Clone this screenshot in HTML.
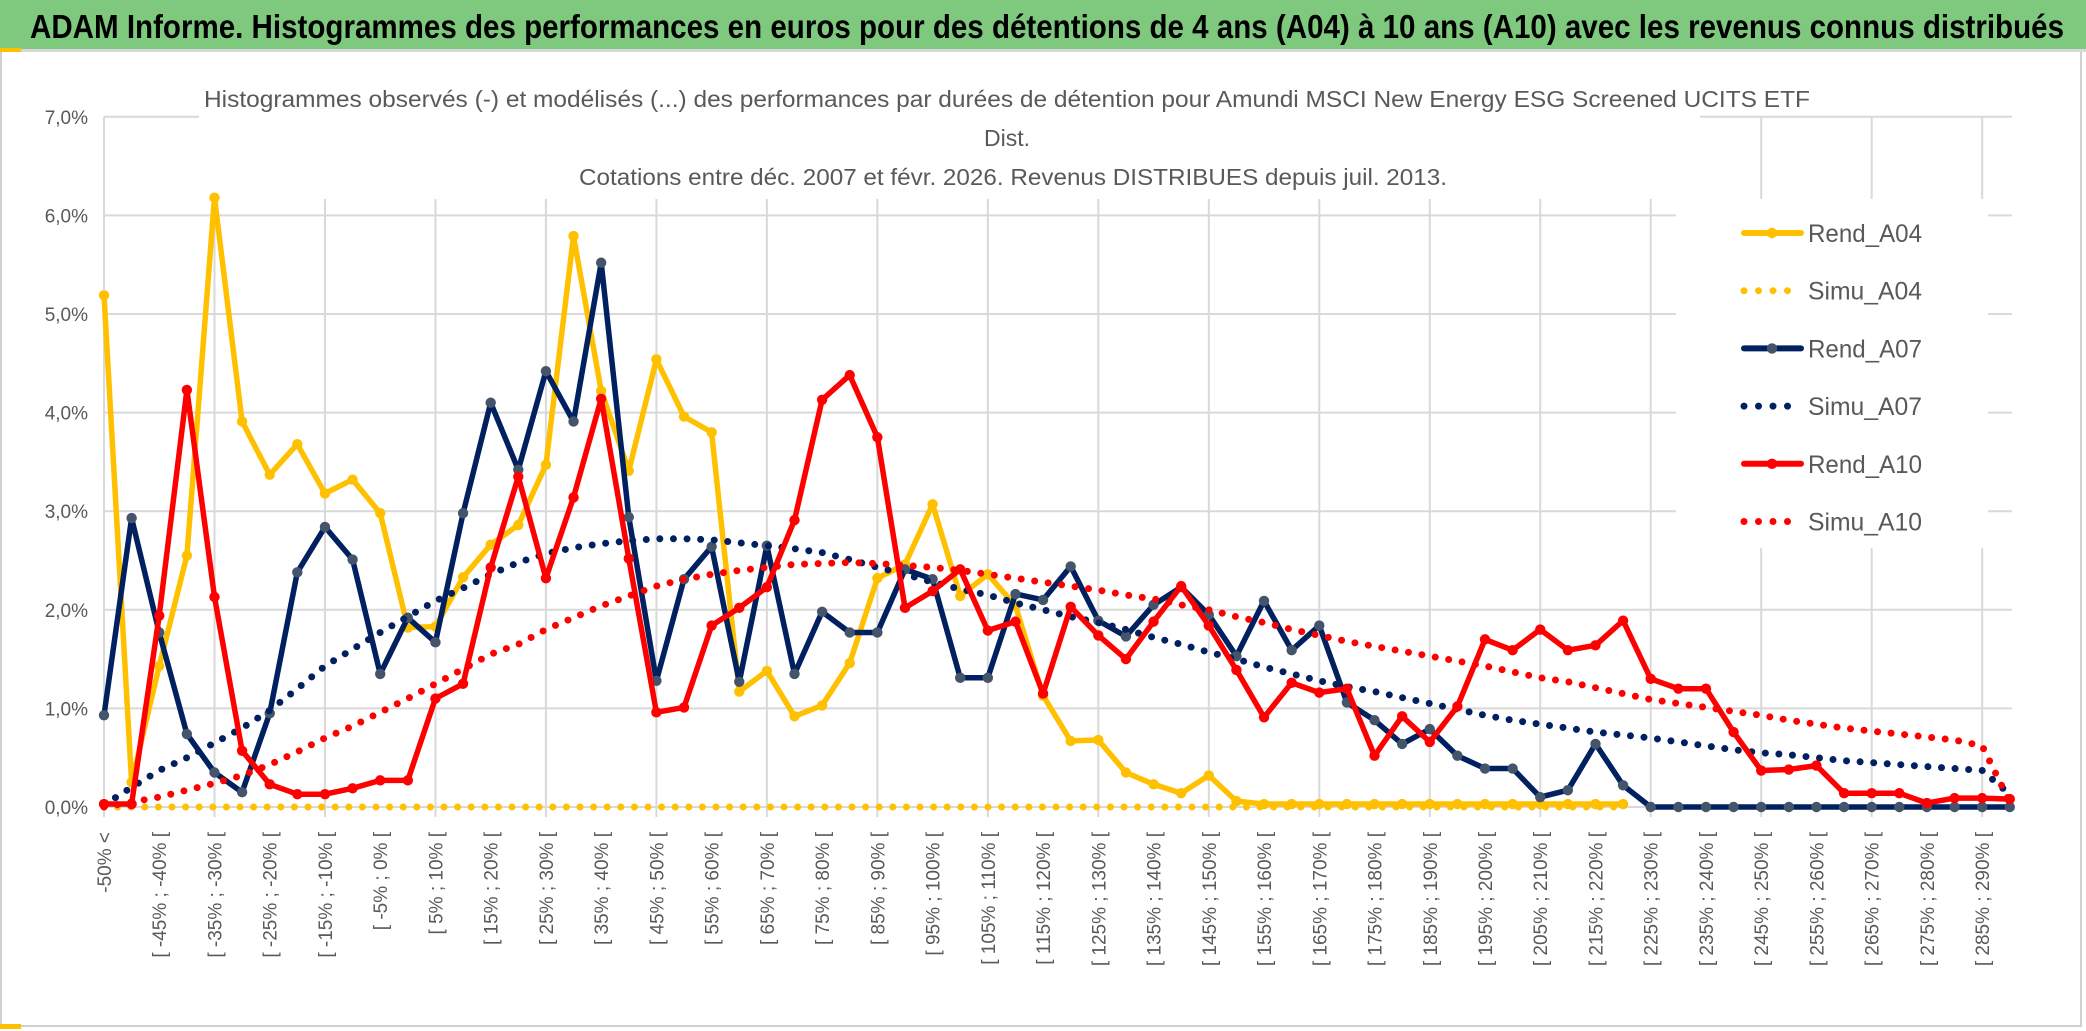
<!DOCTYPE html>
<html>
<head>
<meta charset="utf-8">
<style>
  html, body { margin:0; padding:0; background:#fff; }
  body { width:2086px; height:1031px; overflow:hidden; }
  svg { display:block; font-family:"Liberation Sans", sans-serif; }
</style>
</head>
<body>
<svg id="chart" width="2086" height="1031" viewBox="0 0 2086 1031" xmlns="http://www.w3.org/2000/svg">
  <rect x="0" y="0" width="2086" height="1031" fill="#ffffff"/>
  <rect x="1" y="50" width="2080" height="976" fill="none" stroke="#d0d0d0" stroke-width="2"/>
  <rect x="0" y="0" width="2086" height="50" fill="#7ec97d"/>
  <rect x="0" y="49" width="2086" height="3" fill="#d8d8d8"/>
  <rect x="0" y="48" width="21" height="4" fill="#ffc000"/>
  <rect x="0" y="1024" width="21" height="5" fill="#ffc000"/>
  <text x="30" y="38" font-size="33" font-weight="bold" fill="#000" textLength="2034" lengthAdjust="spacingAndGlyphs">ADAM Informe. Histogrammes des performances en euros pour des détentions de 4 ans (A04) à 10 ans (A10) avec les revenus connus distribués</text>
  <g id="grid"></g>
  <g id="yaxis"></g>
  <g id="xaxis"></g>
  <rect x="199" y="60" width="1501" height="139" fill="#fff"/>
  <g fill="#595959" font-size="23" text-anchor="middle">
    <text x="1007" y="107" textLength="1606" lengthAdjust="spacingAndGlyphs">Histogrammes observés (-) et modélisés (...) des performances par durées de détention pour Amundi MSCI New Energy ESG Screened UCITS ETF</text>
    <text x="1007" y="146">Dist.</text>
    <text x="1013" y="185" textLength="868" lengthAdjust="spacingAndGlyphs">Cotations entre déc. 2007 et févr. 2026. Revenus DISTRIBUES depuis juil. 2013.</text>
  </g>
  <g id="series"></g>
  <rect x="1676" y="199" width="312" height="349" fill="#fff"/>
  <g id="legend"></g>
</svg>
<script>
const categoryLowerBounds = [-50,-45,-40,-35,-30,-25,-20,-15,-10,-5,0,5,10,15,20,25,30,35,40,45,50,55,60,65,70,75,80,85,90,95,100,105,110,115,120,125,130,135,140,145,150,155,160,165,170,175,180,185,190,195,200,205,210,215,220,225,230,235,240,245,250,255,260,265,270,275,280,285,290];
const yTicks = [0,1,2,3,4,5,6,7];
const yTickLabels = ["0,0%","1,0%","2,0%","3,0%","4,0%","5,0%","6,0%","7,0%"];
const rendA04 = [5.19,0.25,1.43,2.55,6.18,3.91,3.37,3.68,3.18,3.32,2.98,1.82,1.83,2.33,2.66,2.86,3.47,5.79,4.22,3.41,4.54,3.96,3.80,1.17,1.38,0.92,1.03,1.46,2.32,2.46,3.07,2.14,2.36,2.04,1.13,0.67,0.68,0.35,0.23,0.14,0.32,0.06,0.03,0.03,0.03,0.03,0.03,0.03,0.03,0.03,0.03,0.03,0.03,0.03,0.03,0.03,null,null,null,null,null,null,null,null,null,null,null,null,null,null];
const simuA04 = [0,0,0,0,0,0,0,0,0,0,0,0,0,0,0,0,0,0,0,0,0,0,0,0,0,0,0,0,0,0,0,0,0,0,0,0,0,0,0,0,0,0,0,0,0,0,0,0,0,0,0,0,0,0,0,0,null,null,null,null,null,null,null,null,null,null,null,null,null,null];
const rendA07 = [0.93,2.93,1.77,0.74,0.35,0.15,0.95,2.38,2.84,2.51,1.35,1.92,1.67,2.98,4.10,3.42,4.42,3.91,5.52,2.94,1.28,2.31,2.64,1.27,2.65,1.35,1.98,1.77,1.77,2.41,2.31,1.31,1.31,2.16,2.10,2.44,1.89,1.73,2.05,2.23,1.95,1.53,2.09,1.59,1.84,1.06,0.88,0.64,0.79,0.52,0.39,0.39,0.10,0.17,0.64,0.22,0,0,0,0,0,0,0,0,0,0,0,0,0,0];
const simuA07 = [0.02,0.2,0.37,0.5,0.65,0.8,0.98,1.2,1.43,1.6,1.77,1.93,2.09,2.22,2.36,2.48,2.57,2.63,2.67,2.70,2.72,2.72,2.71,2.68,2.65,2.62,2.58,2.51,2.43,2.36,2.28,2.21,2.15,2.07,2.0,1.93,1.87,1.80,1.72,1.65,1.57,1.50,1.42,1.35,1.28,1.22,1.17,1.11,1.05,0.99,0.93,0.88,0.84,0.80,0.76,0.73,0.70,0.66,0.62,0.58,0.55,0.53,0.50,0.47,0.45,0.43,0.41,0.39,0.37,0.13];
const rendA10 = [0.03,0.03,1.94,4.23,2.13,0.57,0.23,0.13,0.13,0.19,0.27,0.27,1.10,1.25,2.43,3.35,2.32,3.14,4.14,2.52,0.96,1.01,1.84,2.02,2.23,2.91,4.13,4.38,3.75,2.02,2.19,2.41,1.79,1.88,1.15,2.03,1.74,1.50,1.88,2.24,1.84,1.39,0.91,1.26,1.16,1.20,0.52,0.92,0.66,1.02,1.70,1.59,1.80,1.59,1.64,1.89,1.30,1.20,1.20,0.76,0.37,0.38,0.42,0.14,0.14,0.14,0.04,0.09,0.09,0.08];
const simuA10 = [0.0,0.05,0.1,0.17,0.24,0.32,0.43,0.56,0.7,0.82,0.96,1.1,1.25,1.40,1.55,1.65,1.80,1.92,2.04,2.14,2.24,2.31,2.36,2.40,2.43,2.46,2.47,2.48,2.47,2.45,2.43,2.40,2.36,2.32,2.28,2.24,2.20,2.15,2.11,2.05,2.0,1.93,1.87,1.80,1.74,1.68,1.63,1.58,1.53,1.48,1.43,1.37,1.31,1.27,1.21,1.15,1.09,1.05,1.01,0.97,0.93,0.88,0.84,0.80,0.77,0.74,0.71,0.68,0.62,0.05];
const seriesNames = ["Rend_A04","Simu_A04","Rend_A07","Simu_A07","Rend_A10","Simu_A10"];

const NS = "http://www.w3.org/2000/svg";
const X0 = 104, DX = 27.62, Y0 = 807, PER = 98.6, XEND = 2012;
const nCat = categoryLowerBounds.length + 1;
function xPos(i){ return X0 + i * DX; }
function yPos(v){ return Y0 - v * PER; }
function mk(tag, attrs, parent){
  const e = document.createElementNS(NS, tag);
  for (const k in attrs) e.setAttribute(k, attrs[k]);
  parent.appendChild(e);
  return e;
}
function catLabel(i){
  if (i === 0) return "-50% <";
  const lo = categoryLowerBounds[i-1];
  return "[ " + lo + "% ; " + (lo+5) + "% [";
}

const grid = document.getElementById('grid');
yTicks.forEach(function(t){
  const ln = mk('line', {x1:X0, x2:XEND, y1:yPos(t), y2:yPos(t), stroke:'#d9d9d9', 'stroke-width':2}, grid);
  
  
});
for (let i = 0; i < nCat; i += 4){
  const ln = mk('line', {x1:xPos(i), x2:xPos(i), y1:yPos(7), y2:Y0+10, stroke:'#d9d9d9', 'stroke-width':2}, grid);
  
  
}

const yaxis = document.getElementById('yaxis');
yTicks.forEach(function(t, k){
  const tx = mk('text', {x:88, y:yPos(t)+7, 'text-anchor':'end', 'font-size':19, fill:'#595959'}, yaxis);
  tx.textContent = yTickLabels[k];
  
  
});

const xaxis = document.getElementById('xaxis');
for (let i = 0; i < nCat; i += 2){
  const x = xPos(i) + 7, y = 832;
  const tx = mk('text', {x:x, y:y, 'text-anchor':'end', 'font-size':19, fill:'#595959', transform:'rotate(-90 '+x+' '+y+')'}, xaxis);
  tx.textContent = catLabel(i);
  
  
}

const seriesG = document.getElementById('series');
function pathFor(vals){
  let d = "", pen = false;
  vals.forEach(function(v, i){
    if (v === null) { pen = false; return; }
    d += (pen ? " L" : " M") + xPos(i).toFixed(1) + " " + yPos(v).toFixed(1);
    pen = true;
  });
  return d;
}
function solid(vals, color, markerColor, name){
  const g = mk('g', {}, seriesG);
  
  
  const p = mk('path', {d:pathFor(vals), fill:'none', stroke:color, 'stroke-width':5.5, 'stroke-linejoin':'round', 'stroke-linecap':'round'}, g);
  
  
  vals.forEach(function(v, i){
    if (v === null) return;
    const c = mk('circle', {cx:xPos(i), cy:yPos(v), r:5.2, fill:markerColor}, g);
    
    
  });
}
function dotted(vals, color, name){
  const p = mk('path', {d:pathFor(vals), fill:'none', stroke:color, 'stroke-width':7, 'stroke-linecap':'round', 'stroke-dasharray':'0 13.6'}, seriesG);
  
  
}
solid(rendA04, '#ffc000', '#ffc000', 'rend-a04');
dotted(simuA04, '#ffc000', 'simu-a04');
solid(rendA07, '#002060', '#44546a', 'rend-a07');
dotted(simuA07, '#002060', 'simu-a07');
solid(rendA10, '#ff0000', '#ff0000', 'rend-a10');
dotted(simuA10, '#ff0000', 'simu-a10');

const legend = document.getElementById('legend');
const legendColors = ['#ffc000','#ffc000','#002060','#002060','#ff0000','#ff0000'];
const legendMarkers = ['#ffc000',null,'#44546a',null,'#ff0000',null];
seriesNames.forEach(function(nm, k){
  const y = 233 + k * 57.7;
  const g = mk('g', {}, legend);
  
  
  if (legendMarkers[k]) {
    const l = mk('line', {x1:1744, x2:1801, y1:y, y2:y, stroke:legendColors[k], 'stroke-width':6, 'stroke-linecap':'round'}, g);
    
    
    const c = mk('circle', {cx:1772, cy:y, r:5.2, fill:legendMarkers[k]}, g);
    
    
  } else {
    const l = mk('line', {x1:1744, x2:1801, y1:y, y2:y, stroke:legendColors[k], 'stroke-width':7, 'stroke-linecap':'round', 'stroke-dasharray':'0 14.5'}, g);
    
    
  }
  const t = mk('text', {x:1808, y:y+9, 'font-size':25, fill:'#595959', textLength:114, lengthAdjust:'spacingAndGlyphs'}, g);
  t.textContent = nm;
  
  
});
</script>
</body>
</html>
